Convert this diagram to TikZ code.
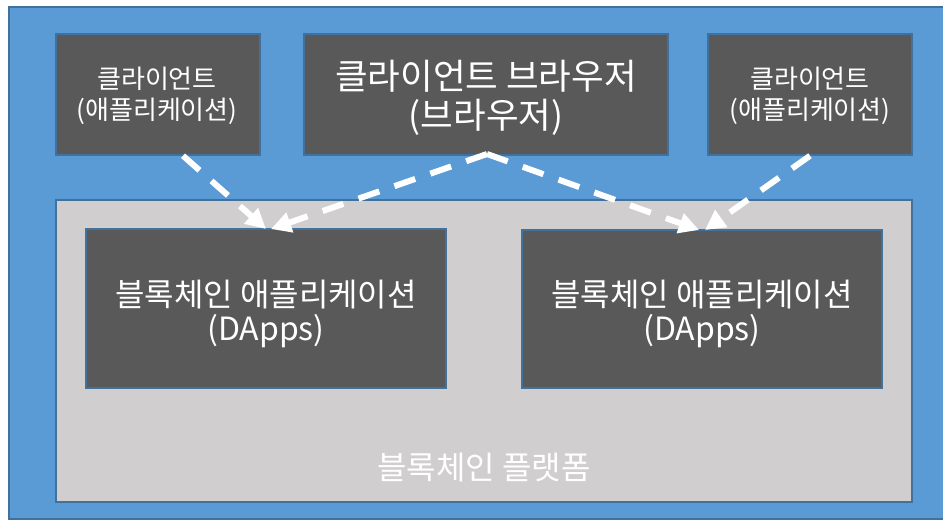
\documentclass[tikz,border=0pt]{standalone}
\usepackage{fontspec}
\setmainfont{Noto Sans CJK KR}
\usetikzlibrary{arrows.meta}
\definecolor{bgblue}{HTML}{5B9BD5}
\definecolor{edgeblue}{HTML}{41719C}
\definecolor{boxgray}{HTML}{595959}
\definecolor{platgray}{HTML}{D0CECE}
\tikzset{
  darkbox/.style={draw=edgeblue, line width=1.5pt, fill=boxgray, inner sep=0pt},
  boxtext/.style={text=white, align=center, inner sep=0pt},
  flowarrow/.style={draw=white, line width=6pt, dash pattern=on 22pt off 16pt,
    -{Triangle[length=20pt,width=20pt]}},
}
\begin{document}
\begin{tikzpicture}[x=1pt,y=-1pt]
\useasboundingbox (0,0) rectangle (943,521);
\fill[white] (0,0) rectangle (943,521);
\draw[edgeblue, line width=1.5pt, fill=bgblue] (9,7) rectangle (948,519);
\node[draw=edgeblue, line width=1.5pt, fill=platgray, minimum width=856pt, minimum height=302pt, inner sep=0pt] (plat) at (484,351) {};
\node[boxtext, font=\fontsize{32}{38}\selectfont] (platlabel) at (484,468) {블록체인 플랫폼};
\node[darkbox, minimum width=204pt, minimum height=121pt] (cl) at (158,94.5) {};
\node[darkbox, minimum width=364pt, minimum height=121pt] (br) at (486,94.5) {};
\node[darkbox, minimum width=204pt, minimum height=121pt] (cr) at (810,94.5) {};
\node[darkbox, minimum width=360pt, minimum height=159pt] (dl) at (266,308.5) {};
\node[darkbox, minimum width=360pt, minimum height=158pt] (dr) at (702,309) {};
\node[boxtext, font=\fontsize{26}{31}\selectfont] (clt) at (157,96) {클라이언트\\(애플리케이션)};
\node[boxtext, font=\fontsize{26}{31}\selectfont] (crt) at (810,96) {클라이언트\\(애플리케이션)};
\node[boxtext, font=\fontsize{35.5}{39}\selectfont] (brt) at (486,98) {클라이언트 브라우저\\(브라우저)};
\node[boxtext, font=\fontsize{32}{34}\selectfont] (dlt) at (266,314) {블록체인 애플리케이션\\(DApps)};
\node[boxtext, font=\fontsize{32}{34}\selectfont] (drt) at (702,314) {블록체인 애플리케이션\\(DApps)};
\coordinate (apex) at (487,154);
\coordinate (tl1) at (266,229);
\coordinate (tl2) at (271,229);
\coordinate (tr1) at (699,230);
\coordinate (tr2) at (705,230);
\draw[flowarrow] (cl.south -| 183,0) -- (tl1);
\draw[flowarrow] (apex) -- (tl2);
\draw[flowarrow] (apex) -- (tr1);
\draw[flowarrow] (cr.south -| 810,0) -- (tr2);
\end{tikzpicture}
\end{document}
